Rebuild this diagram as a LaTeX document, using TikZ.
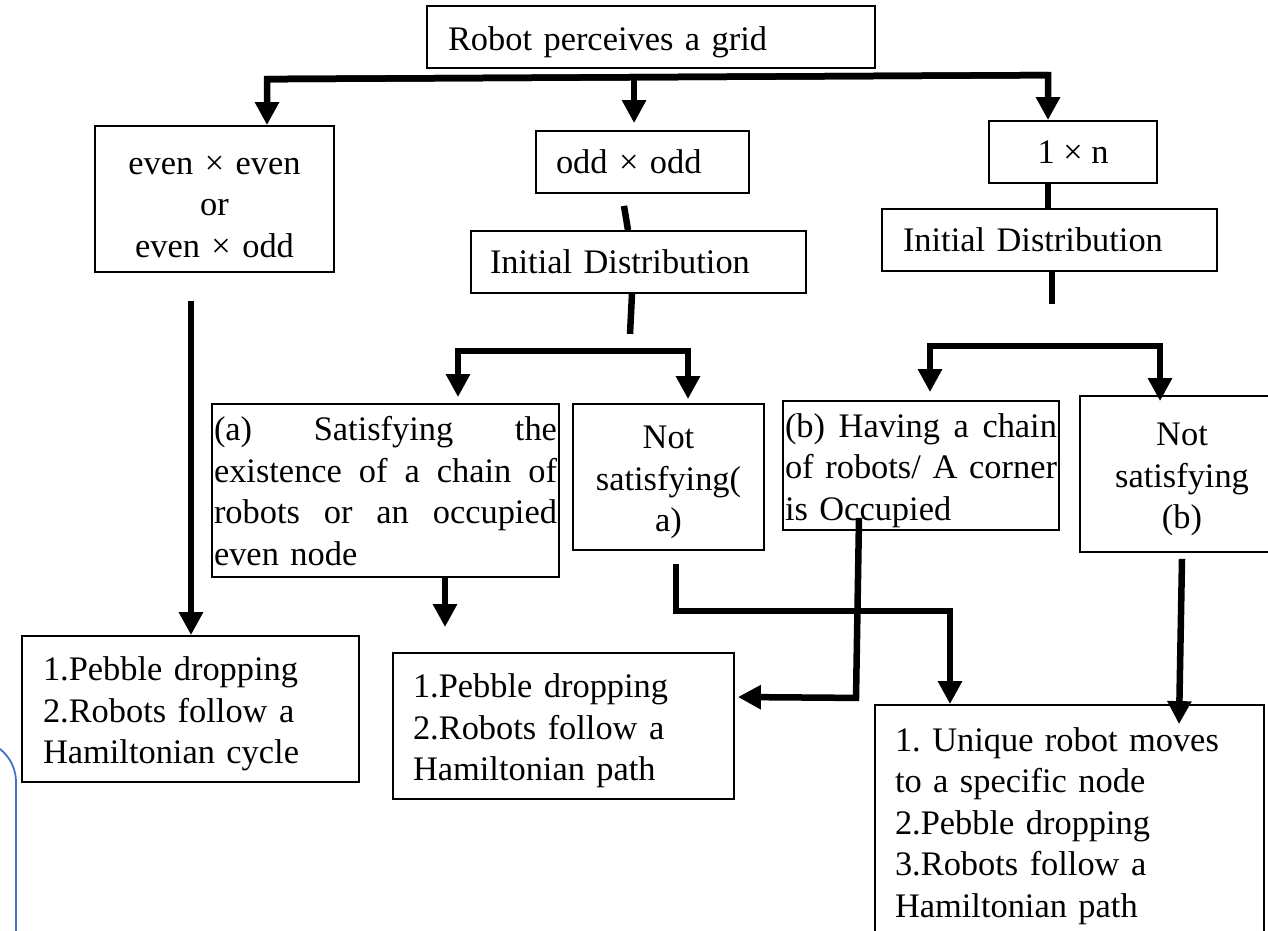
\documentclass[tikz,border=0pt]{standalone}
\usepackage{fontspec}
\setmainfont{Liberation Serif}
\usetikzlibrary{arrows.meta,calc}
\definecolor{frameblue}{HTML}{4472C4}
\newcommand{\jline}[2]{\leavevmode\hbox to #1{#2}}
\begin{document}
\begin{tikzpicture}[x=1pt,y=-1pt,
  every node/.style={font=\fontsize{34.4pt}{41.5pt}\selectfont\frenchspacing},
  box/.style={draw, line width=1.8pt, inner ysep=0pt, inner xsep=0pt, align=center},
  low/.style={text height=34pt},
  conn/.style={line width=6.5pt, line join=miter},
  arr/.style={conn, -{Triangle[width=23pt,length=23pt]}},
  bluefr/.style={draw=frameblue, line width=1.8pt, rounded corners=42pt}]
\useasboundingbox (0,0) rectangle (1268,930);
\clip (0,0) rectangle (1268,930);

% nodes
\node[box, low, minimum width=448pt, minimum height=62pt, inner xsep=21pt, text width=406pt, align=left] (top) at (651,37) {Robot perceives a grid};
\node[box, low, minimum width=239pt, minimum height=146pt, text width=235pt] (ee) at (214.5,199) {even × even\\or\\ even × odd};
\node[box, minimum width=213pt, minimum height=62pt, inner xsep=20pt, text width=173pt, align=left] (oo) at (642.5,162) {odd × odd};
\node[box, minimum width=335pt, minimum height=62pt, inner xsep=19pt, text width=297pt, align=left] (id1) at (638.5,262) {Initial Distribution};
\node[box, minimum width=168pt, minimum height=62pt] (one) at (1073,152) {1 × n};
\node[box, minimum width=335pt, minimum height=62pt, inner xsep=21pt, text width=293pt, align=left] (id2) at (1049.5,240) {Initial Distribution};
\node[box, text height=25pt, minimum width=347pt, minimum height=173pt, inner xsep=2pt, text width=343pt, align=left] (a) at (385.5,490.5)
  {\jline{343pt}{(a)\hfil\ Satisfying\hfil\ the}\\\jline{343pt}{existence\hfil\ of\hfil\ a\hfil\ chain\hfil\ of}\\\jline{343pt}{robots\hfil\ or\hfil\ an\hfil\ occupied}\\even node};
\node[box, low, minimum width=191pt, minimum height=146pt, text width=187pt] (na) at (668.5,477) {Not\\satisfying(\\a)};
\node[box, low, minimum width=276pt, minimum height=129pt, inner xsep=2pt, text width=272pt, align=left] (b) at (921,465.5)
  {\jline{272pt}{(b)\hfil\ Having\hfil\ a\hfil\ chain}\\\jline{272pt}{of\hfil\ robots/\hfil\ A\hfil\ corner}\\is Occupied};
\node[box, low, minimum width=204pt, minimum height=156pt, text width=200pt] (nb) at (1182,474) {Not\\satisfying\\(b)};
\node[box, low, minimum width=337pt, minimum height=146pt, inner xsep=21pt, text width=295pt, align=left] (p1) at (190.5,709)
  {1.Pebble dropping\\2.Robots follow a\\Hamiltonian cycle};
\node[box, low, minimum width=341pt, minimum height=146pt, inner xsep=20pt, text width=301pt, align=left] (p2) at (563.5,726)
  {1.Pebble dropping\\2.Robots follow a\\Hamiltonian path};
\node[box, low, minimum width=389pt, minimum height=232pt, inner xsep=20pt, text width=349pt, align=left] (p3) at (1069.5,821)
  {1. Unique robot moves\\to a specific node\\2.Pebble dropping\\3.Robots follow a\\Hamiltonian path};

% bus 1
\coordinate (b1l) at ($(ee.north)+(52.5,-46)$);
\coordinate (b1r) at ($(one.north)+(-25,-45)$);
\coordinate (b1m) at ($(b1l)!0.47!(b1r)$);
\draw[arr] (b1r) -- (b1l) -- (ee.north -| b1l);
\draw[arr] (b1l) -- (b1r) -- (one.north -| b1r);
\draw[arr] (b1m) -- ($(oo.north -| b1m)+(0,-7)$);

% odd x odd branch
\draw[conn] ($(oo.south)+(-18.5,12)$) -- ($(id1.north)+(-10.5,0)$);
\draw[conn] ($(id1.south)+(-6.5,0)$) -- ($(id1.south)+(-8.5,40)$);
\coordinate (b2l) at ($(a.north)+(72.5,-52)$);
\coordinate (b2r) at ($(na.north)+(19.5,-52)$);
\draw[arr] (b2r) -- (b2l) -- ($(a.north -| b2l)+(0,-6)$);
\draw[arr] (b2l) -- (b2r) -- ($(na.north -| b2r)+(0,-4)$);

% 1 x n branch
\draw[conn] (one.south -| b1r) -- ($(id2.north)+(-1.5,0)$);
\draw[conn] ($(id2.south)+(2.5,0)$) -- ($(id2.south)+(2.5,32)$);
\coordinate (b3l) at ($(b.north)+(9,-54)$);
\coordinate (b3r) at ($(nb.north)+(-22,-49)$);
\draw[arr] (b3r) -- (b3l) -- ($(b.north -| b3l)+(0,-8)$);
\draw[arr] (b3l) -- (b3r) -- ($(nb.north -| b3r)+(0,6)$);

% to results
\draw[arr] ($(ee.south)+(-23.5,28)$) -- ($(p1.north)+(0.5,0)$);
\draw[arr] ($(a.south)+(59.5,0)$) -- ($(p2.north)+(-118.5,-25)$);
\draw[arr] ($(na.south)+(7.5,13)$) |- ($(p3.north)+(-119.5,-93)$) -- ($(p3.north)+(-119.5,0)$);
\draw[arr] ($(b.south)+(-62,-13)$) -- ($(b.south)+(-65,167)$) -- ($(p2.east)+(3,-29)$);
\draw[arr] ($(nb.south)+(0,6)$) -- ($(p3.north)+(109.5,20)$);

% partial blue frame at the left edge
\draw[bluefr] (-100,740) -- (16,740) -- (16,1000);
\end{tikzpicture}
\end{document}
